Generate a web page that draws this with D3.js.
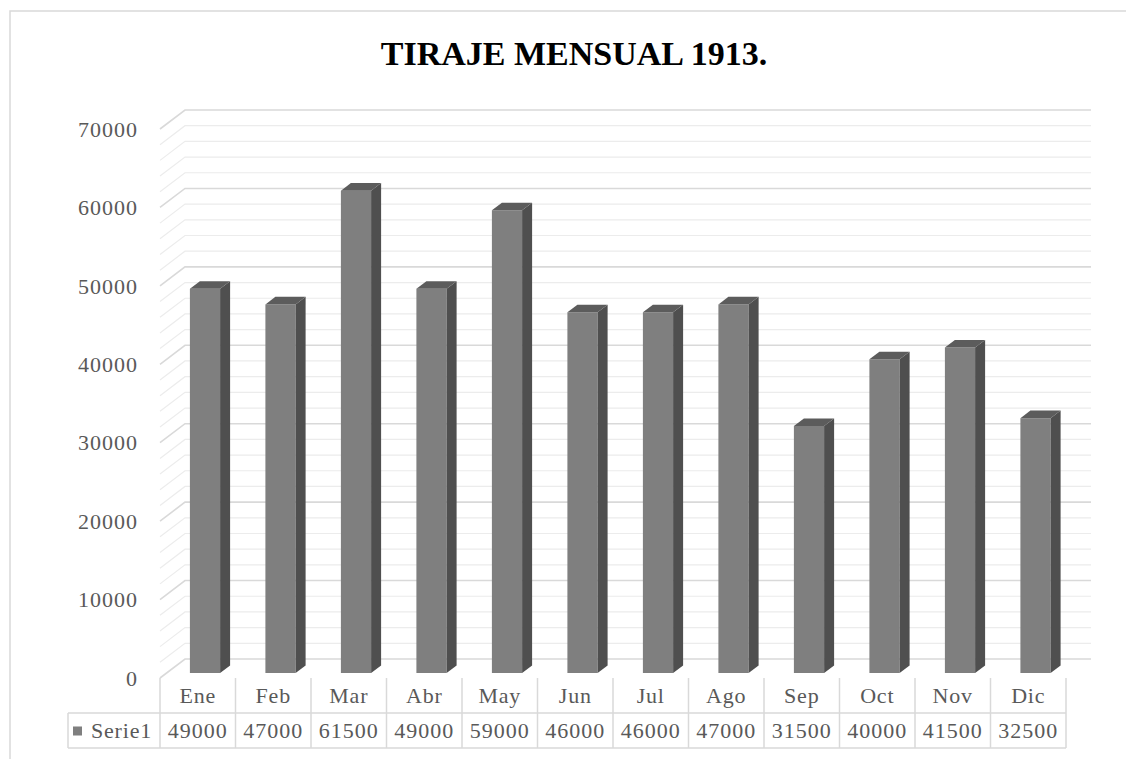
<!DOCTYPE html>
<html lang="es">
<head>
<meta charset="UTF-8">
<title>Tiraje mensual 1913</title>
<script src="https://cdn.jsdelivr.net/npm/d3@7"></script>
<style>
    *{margin:0;padding:0}
    body{background:#fff}
</style>
</head>
<body>
<div id="chart"></div>
<script>
    // datos
    var meses = ['Ene','Feb','Mar','Abr','May','Jun','Jul','Ago','Sep','Oct','Nov','Dic'];
    var tiraje = [49000,47000,61500,49000,59000,46000,46000,47000,31500,40000,41500,32500];
    var serie = 'Serie1';
    var titulo = 'TIRAJE MENSUAL 1913.';
    var ticksY = [0,10000,20000,30000,40000,50000,60000,70000];

    var FUENTE = "'Liberation Serif', 'Times New Roman', serif";
    var width = 1126, height = 759;
    var svg = d3.select('#chart').append('svg')
        .attr('width', width).attr('height', height)
        .attr('font-family', FUENTE);

    // marco del grafico
    svg.append('rect')
        .attr('x', 10).attr('y', 11)
        .attr('width', 1200).attr('height', 800)
        .attr('fill', 'none').attr('stroke', '#d9d9d9').attr('stroke-width', 1.5);

    svg.append('text')
        .attr('x', 574).attr('y', 65)
        .attr('text-anchor', 'middle')
        .attr('font-family', FUENTE)
        .attr('font-size', 34).attr('font-weight', 'bold')
        .attr('fill', '#000')
        .text(titulo);

    // escalas (plano frontal)
    var x = d3.scaleBand().domain(meses).range([160, 1066]);
    var y = d3.scaleLinear().domain([0, 70000]).range([678, 129]);

    // profundidad: 0 = frente, 1 = fondo
    var DX = 25, DY = -19;
    function p(px, py, d) { return [px + DX * d, py + DY * d]; }

    // rejilla
    var grid = svg.append('g');
    d3.range(0, 70001, 2000).forEach(function (v) {
        var mayor = v % 10000 === 0;
        var a = p(x.range()[0], y(v), 0),
            b = p(x.range()[0], y(v), 1),
            c = p(x.range()[1], y(v), 1);
        grid.append('path')
            .attr('d', d3.line()([a, b, c]))
            .attr('fill', 'none')
            .attr('stroke', mayor ? '#d9d9d9' : '#ececec')
            .attr('stroke-width', mayor ? 1.6 : 1.2);
    });

    // eje Y
    svg.append('g').selectAll('text')
        .data(ticksY).enter().append('text')
        .attr('x', 138).attr('y', function (d) { return y(d); })
        .attr('dy', '0.35em')
        .attr('text-anchor', 'end')
        .attr('font-family', FUENTE)
        .attr('font-size', 22).attr('letter-spacing', 1)
        .attr('fill', '#595959')
        .text(function (d) { return d; });

    // barras 3D
    var d0 = 0.26, d1 = 0.66, f0 = 0.31, f1 = 0.71;
    var bars = svg.append('g').selectAll('g')
        .data(meses).enter().append('g');

    function poly(pts) { return d3.line()(pts) + 'Z'; }

    bars.each(function (m, i) {
        var g = d3.select(this);
        var xl = x(m) + f0 * x.bandwidth(), xr = x(m) + f1 * x.bandwidth();
        var yb = y(0), yt = y(tiraje[i]);
        // cara frontal
        g.append('path').attr('fill', '#7f7f7f')
            .attr('d', poly([p(xl, yb, d0), p(xr, yb, d0), p(xr, yt, d0), p(xl, yt, d0)]));
        // cara lateral
        g.append('path').attr('fill', '#4f4f4f')
            .attr('d', poly([p(xr, yb, d0), p(xr, yb, d1), p(xr, yt, d1), p(xr, yt, d0)]));
        // cara superior
        g.append('path').attr('fill', '#5c5c5c')
            .attr('d', poly([p(xl, yt, d0), p(xr, yt, d0), p(xr, yt, d1), p(xl, yt, d1)]));
    });

    // tabla de datos
    var tabla = svg.append('g');
    var top0 = 678, fila1 = 713, fila2 = 748, izq = 68;
    var lineas = '#d9d9d9';
    x.domain().concat(['fin']).forEach(function (m) {
        var xx = m === 'fin' ? x.range()[1] : x(m);
        tabla.append('line')
            .attr('x1', xx).attr('x2', xx).attr('y1', top0).attr('y2', fila2)
            .attr('stroke', lineas).attr('stroke-width', 1.5);
    });
    [fila1, fila2].forEach(function (yy) {
        tabla.append('line')
            .attr('x1', izq).attr('x2', x.range()[1]).attr('y1', yy).attr('y2', yy)
            .attr('stroke', lineas).attr('stroke-width', 1.5);
    });
    tabla.append('line')
        .attr('x1', izq).attr('x2', izq).attr('y1', fila1).attr('y2', fila2)
        .attr('stroke', lineas).attr('stroke-width', 1.5);

    tabla.selectAll('.mes').data(meses).enter().append('text')
        .attr('x', function (d) { return x(d) + x.bandwidth() / 2; })
        .attr('y', (top0 + fila1) / 2).attr('dy', '0.35em')
        .attr('text-anchor', 'middle')
        .attr('font-family', FUENTE)
        .attr('font-size', 22).attr('letter-spacing', 0.8)
        .attr('fill', '#595959')
        .text(function (d) { return d; });

    tabla.selectAll('.val').data(tiraje).enter().append('text')
        .attr('x', function (d, i) { return x(meses[i]) + x.bandwidth() / 2; })
        .attr('y', (fila1 + fila2) / 2).attr('dy', '0.35em')
        .attr('text-anchor', 'middle')
        .attr('font-family', FUENTE)
        .attr('font-size', 22).attr('letter-spacing', 1)
        .attr('fill', '#595959')
        .text(function (d) { return d; });

    tabla.append('rect')
        .attr('x', 73).attr('y', (fila1 + fila2) / 2 - 4)
        .attr('width', 9).attr('height', 9)
        .attr('fill', '#7f7f7f');
    tabla.append('text')
        .attr('x', 91).attr('y', (fila1 + fila2) / 2).attr('dy', '0.35em')
        .attr('font-family', FUENTE)
        .attr('font-size', 22).attr('letter-spacing', 0.8)
        .attr('fill', '#595959')
        .text(serie);
</script>
</body>
</html>
